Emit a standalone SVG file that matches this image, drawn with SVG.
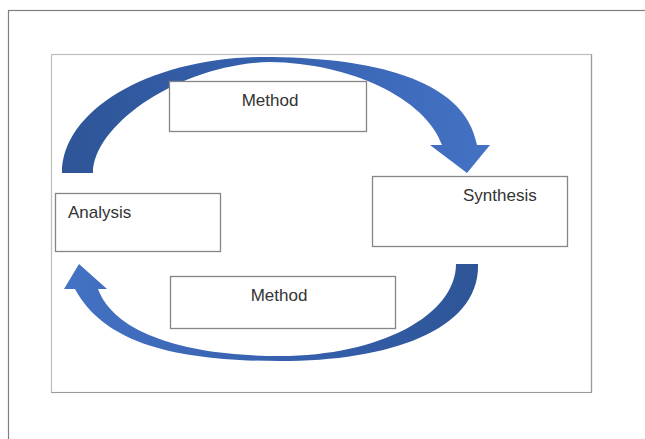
<svg xmlns="http://www.w3.org/2000/svg" width="645" height="439" viewBox="0 0 645 439">
  <defs>
    <linearGradient id="gTop" gradientUnits="userSpaceOnUse" x1="62" y1="0" x2="490" y2="0">
      <stop offset="0" stop-color="#2e5597"/>
      <stop offset="0.45" stop-color="#3560ad"/>
      <stop offset="1" stop-color="#4472c4"/>
    </linearGradient>
    <linearGradient id="gBot" gradientUnits="userSpaceOnUse" x1="478" y1="0" x2="64" y2="0">
      <stop offset="0" stop-color="#2e5597"/>
      <stop offset="0.45" stop-color="#3560ad"/>
      <stop offset="1" stop-color="#4472c4"/>
    </linearGradient>
  </defs>
  <style>
    .box { fill: #ffffff; stroke: #858585; stroke-width: 1.3; }
    .lbl { font-family: "Liberation Sans", Arial, sans-serif; font-size: 17px; fill: #333333; }
  </style>
  <rect width="645" height="439" fill="#ffffff"/>
  <rect x="8.5" y="10.5" width="700" height="500" fill="none" stroke="#808080" stroke-width="1.2"/>
  <rect x="51.5" y="54.5" width="540" height="338" fill="#ffffff" stroke="#bdbdbd" stroke-width="1.2"/>
  <path d="M591.5 54.5 V392.5 H51.5" fill="none" stroke="#9a9a9a" stroke-width="1.2"/>

  <g id="connectors">
    <path id="arrow-top" fill="url(#gTop)" d="M62 173 C62 110 150 58 262 57 C370 57 465 78 477 145 L490 145 L467 173 L430 145 L442 145 C425 98 350 63 270 62 C180 64 93 125 93 173 Z"/>
    <path id="arrow-bottom" fill="url(#gBot)" d="M478 264 C480 330 390 361 280 361 C180 361 105 345 75 289 L64 289 L79 264 L107 289 L98 289 C115 335 190 356 280 356 C380 356 456 315 456 264 Z"/>
  </g>

  <g id="method-top">
    <rect class="box" x="169.5" y="81.5" width="197" height="50"/>
    <text class="lbl" x="270" y="106" text-anchor="middle">Method</text>
  </g>
  <g id="analysis">
    <rect class="box" x="55.5" y="193.5" width="165" height="58"/>
    <text class="lbl" x="68" y="218">Analysis</text>
  </g>
  <g id="synthesis">
    <rect class="box" x="372.5" y="176.5" width="195" height="70"/>
    <text class="lbl" x="463" y="201">Synthesis</text>
  </g>
  <g id="method-bottom">
    <rect class="box" x="170.5" y="276.5" width="225" height="52"/>
    <text class="lbl" x="279" y="301" text-anchor="middle">Method</text>
  </g>
</svg>
